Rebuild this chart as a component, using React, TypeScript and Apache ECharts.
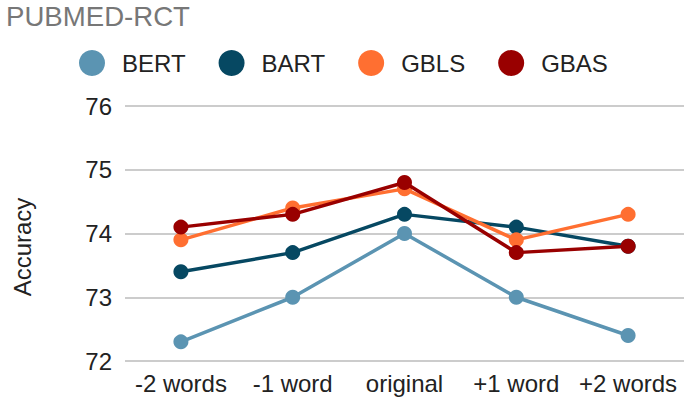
import React, { useEffect, useRef } from "react";
import * as echarts from "echarts";

const categories = ["-2 words", "-1 word", "original", "+1 word", "+2 words"];
const bert = [72.3, 73.0, 74.0, 73.0, 72.4];
const bart = [73.4, 73.7, 74.3, 74.1, 73.8];
const gbls = [73.9, 74.4, 74.7, 73.9, 74.3];
const gbas = [74.1, 74.3, 74.8, 73.7, 73.8];
const seriesNames = ["BERT", "BART", "GBLS", "GBAS"];
const colors = ["#5B94B2", "#064862", "#FF6F31", "#990000"];
const yTicks = { min: 72, max: 76, interval: 1 };
const titleText = "PUBMED-RCT";
const yAxisTitle = "Accuracy";

const FONT = "'Liberation Sans', Arial, sans-serif";

export default function App() {
  const ref = useRef<HTMLDivElement>(null);
  useEffect(() => {
    if (!ref.current) return;
    const chart = echarts.init(ref.current, undefined, { renderer: "svg" });
    const data = [bert, bart, gbls, gbas];
    chart.setOption({
      animation: false,
      backgroundColor: "#ffffff",
      textStyle: { fontFamily: FONT },
      title: {
        text: titleText,
        left: 6,
        top: 2,
        padding: 0,
        textStyle: { fontFamily: FONT, fontSize: 27.6, fontWeight: "normal", color: "#777777" },
      },
      legend: {
        left: 79,
        top: 50,
        padding: 0,
        icon: "circle",
        itemWidth: 26,
        itemHeight: 26,
        itemGap: 33,
        data: seriesNames,
        textStyle: { fontFamily: FONT, fontSize: 24, color: "#222222", padding: [0, 0, 0, 12] },
      },
      grid: { left: 125, right: 6, top: 106, bottom: 51, containLabel: false },
      xAxis: {
        type: "category",
        data: categories,
        boundaryGap: true,
        axisLine: { show: false },
        axisTick: { show: false },
        axisLabel: { fontFamily: FONT, fontSize: 24, color: "#222222", margin: 10, interval: 0 },
      },
      yAxis: {
        type: "value",
        min: yTicks.min,
        max: yTicks.max,
        interval: yTicks.interval,
        axisLine: { show: false },
        axisTick: { show: false },
        axisLabel: { fontFamily: FONT, fontSize: 24, color: "#222222", margin: 13 },
        splitLine: { lineStyle: { color: "#cccccc", width: 2 } },
      },
      graphic: [
        {
          type: "text",
          x: 22,
          y: 247,
          rotation: Math.PI / 2,
          style: {
            text: yAxisTitle,
            fontFamily: FONT,
            fontSize: 24,
            fill: "#222222",
            align: "center",
            verticalAlign: "middle",
          },
        },
      ],
      series: seriesNames.map((name, i) => ({
        name,
        type: "line",
        data: data[i],
        symbol: "circle",
        symbolSize: 15,
        color: colors[i],
        lineStyle: { width: 3.5, color: colors[i] },
        itemStyle: { color: colors[i] },
        z: 2 + i,
      })),
    });
    return () => chart.dispose();
  }, []);
  return <div ref={ref} style={{ width: 690, height: 412, position: "absolute", left: 0, top: 0 }} />;
}
